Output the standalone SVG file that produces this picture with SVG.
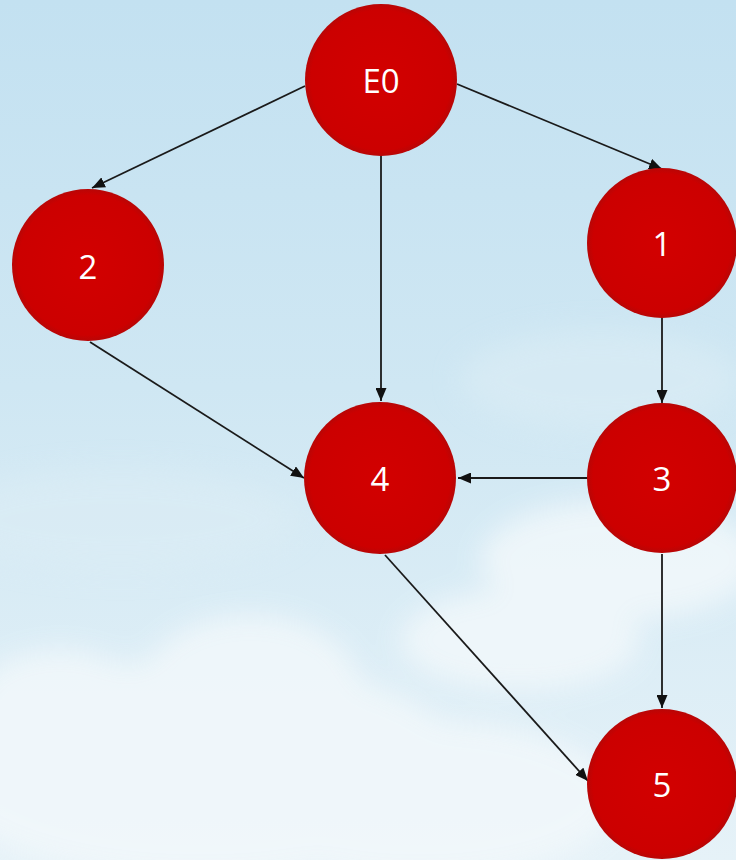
<svg xmlns="http://www.w3.org/2000/svg" width="736" height="860" viewBox="0 0 736 860">
  <defs>
    <linearGradient id="sky" x1="0" y1="0" x2="0" y2="1">
      <stop offset="0" stop-color="#c3e1f1"/>
      <stop offset="0.45" stop-color="#cfe7f3"/>
      <stop offset="1" stop-color="#e6f2f8"/>
    </linearGradient>
    <radialGradient id="ball" cx="0.5" cy="0.5" r="0.5">
      <stop offset="0" stop-color="#d20000"/>
      <stop offset="0.92" stop-color="#cc0000"/>
      <stop offset="1" stop-color="#b80606"/>
    </radialGradient>
    <filter id="soft" x="-20%" y="-20%" width="140%" height="140%">
      <feGaussianBlur stdDeviation="14"/>
    </filter>
    <marker id="head" viewBox="0 0 13 11" refX="13" refY="5.5" markerWidth="13" markerHeight="11" markerUnits="userSpaceOnUse" orient="auto">
      <path d="M0,0 L13,5.5 L0,11 Z" fill="#111"/>
    </marker>
    <style>
      .node circle { fill: url(#ball); }
      .node text { fill: #ffffff; font-family: "Open Sans", "Noto Sans", "Liberation Sans", sans-serif; font-size: 33px; font-weight: 500; text-anchor: middle; dominant-baseline: central; }
      .edge { stroke: #1a1a1a; stroke-width: 1.8; fill: none; marker-end: url(#head); }
    </style>
  </defs>

  <!-- sky background -->
  <rect width="736" height="860" fill="url(#sky)"/>

  <!-- soft clouds -->
  <g fill="#f2f8fb" opacity="0.85" filter="url(#soft)">
    <ellipse cx="200" cy="770" rx="270" ry="110"/>
    <ellipse cx="250" cy="690" rx="110" ry="75"/>
    <ellipse cx="60" cy="710" rx="90" ry="60"/>
    <ellipse cx="420" cy="800" rx="200" ry="80"/>
    <ellipse cx="620" cy="560" rx="140" ry="60"/>
    <ellipse cx="520" cy="640" rx="120" ry="50"/>
  </g>
  <g fill="#dcedf5" opacity="0.6" filter="url(#soft)">
    <ellipse cx="120" cy="520" rx="180" ry="50"/>
    <ellipse cx="600" cy="380" rx="140" ry="50"/>
  </g>

  <!-- connectors -->
  <g id="edges">
    <line class="edge" x1="305" y1="86" x2="92" y2="188"/>
    <line class="edge" x1="381" y1="156" x2="381" y2="401"/>
    <line class="edge" x1="457" y1="84" x2="662" y2="169"/>
    <line class="edge" x1="662" y1="318" x2="662" y2="403"/>
    <line class="edge" x1="90" y1="342" x2="304" y2="478"/>
    <line class="edge" x1="588" y1="478" x2="458" y2="478"/>
    <line class="edge" x1="385" y1="555" x2="588" y2="781"/>
    <line class="edge" x1="662" y1="554" x2="662" y2="708"/>
  </g>

  <!-- nodes -->
  <g id="node-E0" class="node">
    <circle cx="381" cy="80" r="76"/>
    <text x="381" y="80">E0</text>
  </g>
  <g id="node-1" class="node">
    <circle cx="662" cy="243" r="75"/>
    <text x="662" y="243">1</text>
  </g>
  <g id="node-2" class="node">
    <circle cx="88" cy="265" r="76"/>
    <text x="88" y="266">2</text>
  </g>
  <g id="node-4" class="node">
    <circle cx="380" cy="478" r="76"/>
    <text x="380" y="478">4</text>
  </g>
  <g id="node-3" class="node">
    <circle cx="662" cy="478" r="75"/>
    <text x="662" y="478">3</text>
  </g>
  <g id="node-5" class="node">
    <circle cx="662" cy="784" r="75"/>
    <text x="662" y="784">5</text>
  </g>
</svg>
